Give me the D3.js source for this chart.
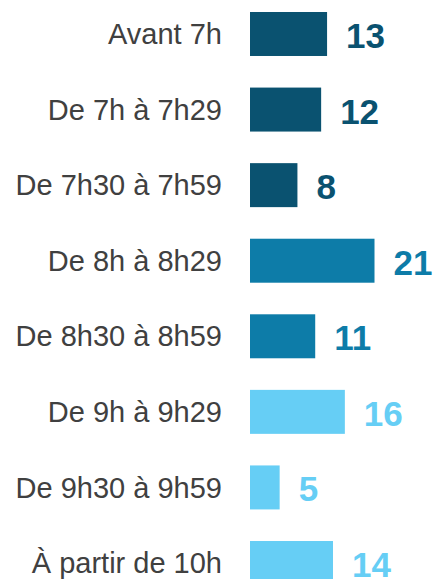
<!DOCTYPE html>
<html lang="fr">
<head>
	<meta charset="utf-8">
	<title>Heure de départ</title>
	<script src="https://d3js.org/d3.v7.min.js"></script>
	<style>
		body { margin: 0; background: #fff; }
	</style>
</head>
<body>
	<script>
		// categories (time slots) and values
		var categories = ["Avant 7h", "De 7h à 7h29", "De 7h30 à 7h59", "De 8h à 8h29",
			"De 8h30 à 8h59", "De 9h à 9h29", "De 9h30 à 9h59", "À partir de 10h"];
		var values = [13, 12, 8, 21, 11, 16, 5, 14];
		// colour group for each bar
		var groups = ["early", "early", "early", "mid", "mid", "late", "late", "late"];

		var width = 434, height = 579;

		var colour = d3.scaleOrdinal()
			.domain(["early", "mid", "late"])
			.range(["#0a5270", "#0d7ca8", "#66cef5"]);

		var svg = d3.select("body").append("svg")
			.attr("width", width)
			.attr("height", height);

		var y = d3.scaleBand()
			.domain(categories)
			.range([12, 585])
			.paddingInner(0.418)
			.paddingOuter(0);

		var x = d3.scaleLinear()
			.domain([0, 21])
			.range([250, 374.5]);

		var rows = categories.map(function(c, i) {
			return { cat: c, value: values[i], group: groups[i] };
		});

		var row = svg.selectAll(".row")
			.data(rows)
			.enter().append("g")
			.attr("class", "row");

		// bars
		row.append("rect")
			.attr("x", x(0))
			.attr("y", function(d) { return y(d.cat); })
			.attr("width", function(d) { return x(d.value) - x(0); })
			.attr("height", y.bandwidth())
			.attr("fill", function(d) { return colour(d.group); });

		// category labels
		row.append("text")
			.attr("x", x(0) - 28)
			.attr("y", function(d) { return y(d.cat) + y.bandwidth() / 2; })
			.attr("dy", "0.35em")
			.attr("text-anchor", "end")
			.attr("font-family", "'Liberation Sans', Arial, sans-serif")
			.attr("font-size", 29)
			.attr("fill", "#404040")
			.text(function(d) { return d.cat; });

		// value labels
		row.append("text")
			.attr("x", function(d) { return x(d.value) + 19; })
			.attr("y", function(d) { return y(d.cat) + y.bandwidth() / 2; })
			.attr("dy", "0.4em")
			.attr("font-family", "'Liberation Sans', Arial, sans-serif")
			.attr("font-size", 35)
			.attr("font-weight", "bold")
			.attr("fill", function(d) { return colour(d.group); })
			.text(function(d) { return d.value; });
	</script>
</body>
</html>
